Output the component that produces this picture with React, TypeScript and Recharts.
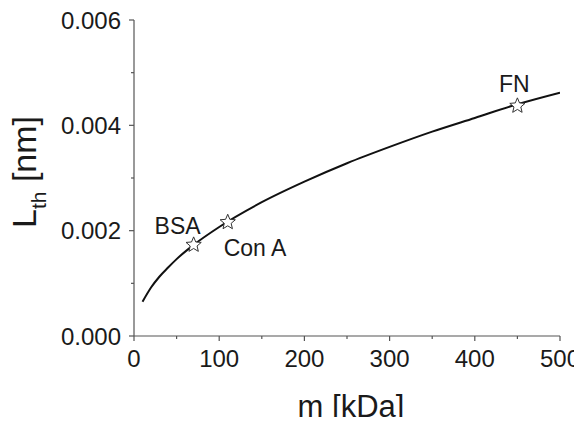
import { FC } from "react";
import { ComposedChart, Line, Scatter, XAxis, YAxis, LabelList } from "recharts";

// fitted curve: mass (kDa) vs threshold thickness (nm)
const curveMass = [10, 20, 30, 40, 50, 70, 100, 150, 200, 250, 300, 350, 400, 450, 500];
const curveThickness = [0.00065, 0.00092, 0.00113, 0.0013, 0.00146, 0.00173, 0.00207, 0.00254, 0.00293, 0.00328, 0.00359, 0.00388, 0.00414, 0.0044, 0.00462];

// the three proteins marked with stars
const proteinNames = ["BSA", "Con A", "FN"];
const proteinMass = [70, 110, 450];
const proteinThickness = [0.00173, 0.00216, 0.00437];

const xTicks = [0, 50, 100, 150, 200, 250, 300, 350, 400, 450, 500];
const yTicks = [0, 0.001, 0.002, 0.003, 0.004, 0.005, 0.006];

const axisColor = "#555";
const textColor = "#1a1a1a";
const font = "'Liberation Sans', Arial, sans-serif";

// label offsets relative to each star
const labelOffset: Record<string, { dx: number; dy: number; anchor: string }> = {
    "BSA": { dx: -16, dy: -11, anchor: "middle" },
    "Con A": { dx: -4, dy: 34, anchor: "start" },
    "FN": { dx: -3, dy: -14, anchor: "middle" },
};

const curveData = curveMass.map((m, i) => ({ m, lth: curveThickness[i] }));
const proteinData = proteinNames.map((name, i) => ({ name, m: proteinMass[i], lth: proteinThickness[i] }));

const TICK_SIZE = 5;
const TICK_MARGIN = 3;

const XTick = (props: any) => {
    const { x, y, payload } = props;
    const major = payload.value % 100 === 0;
    const axisY = y - TICK_SIZE - TICK_MARGIN;
    return (
        <g>
            <line x1={x} x2={x} y1={axisY} y2={axisY + (major ? 5 : 3)} stroke={axisColor} strokeWidth={1.2} />
            {major && (
                <text x={x} y={axisY + 31} textAnchor="middle" fontSize={24} fontFamily={font} fill={textColor}>
                    {payload.value}
                </text>
            )}
        </g>
    );
};

const YTick = (props: any) => {
    const { x, y, payload } = props;
    const major = Math.round(payload.value * 1000) % 2 === 0;
    const axisX = x + TICK_SIZE + TICK_MARGIN;
    return (
        <g>
            <line x1={axisX} x2={axisX - (major ? 5 : 3)} y1={y} y2={y} stroke={axisColor} strokeWidth={1.2} />
            {major && (
                <text x={axisX - 13} y={y} dy={8.5} textAnchor="end" fontSize={24} fontFamily={font} fill={textColor}>
                    {payload.value.toFixed(3)}
                </text>
            )}
        </g>
    );
};

const Star = (props: any) => {
    const { cx, cy } = props;
    const pts: string[] = [];
    for (let i = 0; i < 10; i++) {
        const r = i % 2 === 0 ? 8 : 3.6;
        const a = -Math.PI / 2 + (i * Math.PI) / 5;
        pts.push(`${cx + r * Math.cos(a)},${cy + r * Math.sin(a)}`);
    }
    return <polygon points={pts.join(" ")} fill="#fff" stroke="#333" strokeWidth={1} />;
};

const ProteinLabel = (props: any) => {
    const { x, y, width, height, value } = props;
    const o = labelOffset[value];
    const cx = x + (width || 0) / 2;
    const cy = y + (height || 0) / 2;
    return (
        <text x={cx + o.dx} y={cy + o.dy} textAnchor={o.anchor} fontSize={23} fontFamily={font} fill={textColor}>
            {value}
        </text>
    );
};

const App: FC = () => {
    return (
        <div style={{ margin: -8 }}>
            <ComposedChart width={582} height={425} margin={{ top: 20, right: 22, left: 0, bottom: 0 }}>
                <XAxis
                    dataKey="m"
                    type="number"
                    domain={[0, 500]}
                    ticks={xTicks}
                    height={89}
                    tickSize={TICK_SIZE}
                    tickMargin={TICK_MARGIN}
                    tickLine={false}
                    tick={<XTick />}
                    stroke={axisColor}
                    strokeWidth={1.2}
                    allowDataOverflow
                    label={({ viewBox }: any) => (
                        <text x={viewBox.x + viewBox.width / 2 + 4} y={viewBox.y + 81} textAnchor="middle" fontSize={31} fontFamily={font} fill={textColor}>
                            m [kDa]
                        </text>
                    )}
                />
                <YAxis
                    dataKey="lth"
                    type="number"
                    domain={[0, 0.006]}
                    ticks={yTicks}
                    width={134}
                    tickSize={TICK_SIZE}
                    tickMargin={TICK_MARGIN}
                    tickLine={false}
                    tick={<YTick />}
                    stroke={axisColor}
                    strokeWidth={1.2}
                    allowDataOverflow
                    label={({ viewBox }: any) => {
                        const cx = 36;
                        const cy = viewBox.y + viewBox.height / 2 - 6;
                        return (
                            <text transform={`translate(${cx},${cy}) rotate(-90)`} textAnchor="middle" fontSize={34} fontFamily={font} fill={textColor}>
                                L<tspan fontSize={21} dy={10}>th</tspan>
                                <tspan dy={-10}> [nm]</tspan>
                            </text>
                        );
                    }}
                />
                <Line
                    data={curveData}
                    dataKey="lth"
                    type="monotone"
                    stroke="#111"
                    strokeWidth={2}
                    dot={false}
                    isAnimationActive={false}
                />
                <Scatter data={proteinData} dataKey="lth" shape={<Star />} isAnimationActive={false}>
                    <LabelList dataKey="name" content={<ProteinLabel />} />
                </Scatter>
            </ComposedChart>
        </div>
    );
};

export default App;
